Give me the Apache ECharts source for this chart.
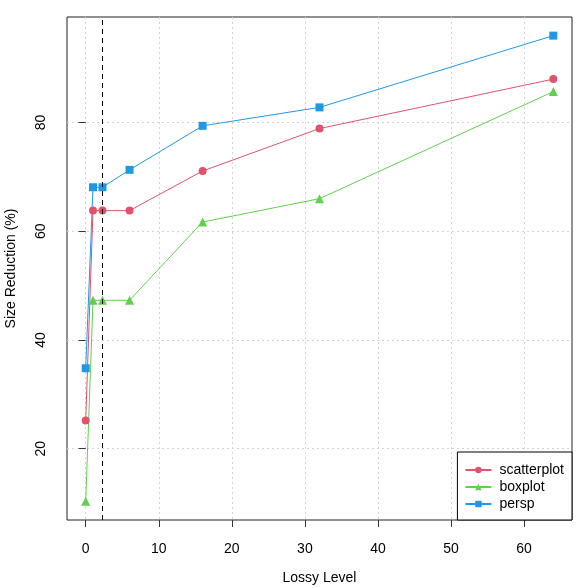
<!DOCTYPE html>
<html>
<head>
<meta charset="utf-8">
<script src="https://cdn.jsdelivr.net/npm/echarts@6/dist/echarts.min.js"></script>
<style>html,body{margin:0;padding:0;background:#fff}#c{width:588px;height:588px}</style>
</head>
<body>
<div id="c"></div>
<script>
const lossyLevels = [0, 1, 2.3, 6, 16, 32, 64];
const scatterplot = [25.2, 63.8, 63.8, 63.8, 71.1, 78.9, 88.0];
const boxplot = [10.3, 47.3, 47.3, 47.3, 61.7, 66.0, 85.7];
const persp = [34.8, 68.1, 68.1, 71.3, 79.4, 82.8, 96.0];
const xTicks = [0, 10, 20, 30, 40, 50, 60];
const yTicks = [20, 40, 60, 80];
const cutoffLevel = 2.3;

const pairs = (ys) => lossyLevels.map((x, i) => [x, ys[i]]);
const FONT = 'Liberation Sans';
const chart = echarts.init(document.getElementById('c'));
const mk = (name, ys, color, symbol, size) => ({
  name, type: 'line', data: pairs(ys), symbol, symbolSize: size,
  showAllSymbol: true,
  itemStyle: { color }, lineStyle: { color, width: 1 }, z: 3
});
const series = [
  mk('scatterplot', scatterplot, '#DF536B', 'circle', 8),
  mk('boxplot', boxplot, '#61D04F', 'triangle', 9),
  mk('persp', persp, '#2297E6', 'rect', 8)
];
series[0].markLine = {
  silent: true, symbol: 'none', label: { show: false },
  lineStyle: { color: '#000', type: [5, 4], width: 1 },
  data: [{ xAxis: cutoffLevel }]
};
chart.setOption({
  animation: false,
  backgroundColor: '#fff',
  textStyle: { fontFamily: FONT },
  grid: { left: 67, right: 16, top: 17, bottom: 68, outerBoundsMode: 'none', containLabel: false,
          show: true, borderColor: '#222', borderWidth: 1, backgroundColor: 'transparent' },
  xAxis: {
    type: 'value', min: -2.56, max: 66.56,
    name: 'Lossy Level', nameLocation: 'middle', nameGap: 51,
    nameTextStyle: { fontFamily: FONT, fontSize: 14, color: '#000' },
    axisLine: { show: false },
    axisTick: { show: true, customValues: xTicks, length: 7, lineStyle: { color: '#333' } },
    axisLabel: { customValues: xTicks, margin: 22, fontFamily: FONT, fontSize: 14, color: '#000' },
    splitLine: { show: true, lineStyle: { color: '#D3D3D3', type: [2, 3] } }
  },
  yAxis: {
    type: 'value', min: 6.87, max: 99.43,
    name: 'Size Reduction (%)', nameLocation: 'middle', nameGap: 49,
    nameTextStyle: { fontFamily: FONT, fontSize: 14, color: '#000' },
    axisLine: { show: false },
    axisTick: { show: true, customValues: yTicks, length: 7, lineStyle: { color: '#333' } },
    axisLabel: { customValues: yTicks, margin: 19, rotate: 90, fontFamily: FONT, fontSize: 14, color: '#000' },
    splitLine: { show: true, lineStyle: { color: '#D3D3D3', type: [2, 3] } }
  },
  legend: {
    orient: 'vertical', right: 16, bottom: 68,
    backgroundColor: '#fff', borderColor: '#000', borderWidth: 1, borderRadius: 0,
    padding: [11, 8, 9, 7], itemGap: 3, itemWidth: 26, itemHeight: 8,
    textStyle: { fontFamily: FONT, fontSize: 14, color: '#000', padding: [0, 0, 0, 3] },
    data: ['scatterplot', 'boxplot', 'persp']
  },
  series
});
</script>
</body>
</html>
